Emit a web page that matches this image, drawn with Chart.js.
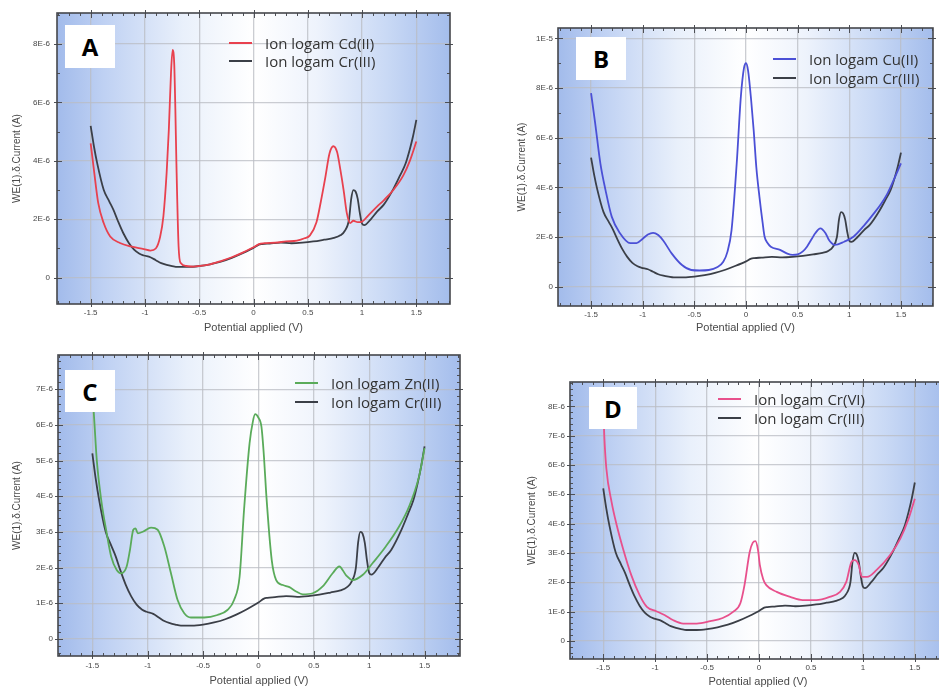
<!DOCTYPE html>
<html><head><meta charset="utf-8">
<script src="https://cdn.jsdelivr.net/npm/chart.js@4.4.1/dist/chart.umd.min.js"></script>
<style>
html,body{margin:0;padding:0;background:#fff;overflow:hidden;width:939px;height:687px;}
canvas{position:absolute;}
.box{position:absolute;background:#fff;font:bold 24px "Open Sans",sans-serif;color:#000;display:flex;align-items:center;justify-content:center;}
.leg{position:absolute;font:15px "Open Sans",sans-serif;color:#333;white-space:nowrap;}
.leg div{display:flex;align-items:center;}
.leg span.ln{display:inline-block;width:23px;height:2px;margin-right:13px;}
</style></head><body>
<canvas id="cA" width="470" height="340" style="left:0;top:0"></canvas>
<canvas id="cB" width="469" height="340" style="left:470px;top:0"></canvas>
<canvas id="cC" width="470" height="352" style="left:0;top:340px"></canvas>
<canvas id="cD" width="480" height="352" style="left:470px;top:340px"></canvas>

<div class="box" style="left:65px;top:25px;width:50px;height:43px">A</div>
<div class="box" style="left:576px;top:37px;width:50px;height:43px">B</div>
<div class="box" style="left:65px;top:370px;width:50px;height:42px">C</div>
<div class="box" style="left:589px;top:387px;width:48px;height:42px">D</div>

<div class="leg" style="left:229px;top:34px">
  <div style="height:18px"><span class="ln" style="background:#e8414e"></span>Ion logam Cd(II)</div>
  <div style="height:18px"><span class="ln" style="background:#3b3f47"></span>Ion logam Cr(III)</div>
</div>
<div class="leg" style="left:773px;top:49px">
  <div style="height:19px"><span class="ln" style="background:#4b50d6"></span>Ion logam Cu(II)</div>
  <div style="height:19px"><span class="ln" style="background:#3b3f47"></span>Ion logam Cr(III)</div>
</div>
<div class="leg" style="left:295px;top:373px">
  <div style="height:19px"><span class="ln" style="background:#5aab5a"></span>Ion logam Zn(II)</div>
  <div style="height:19px"><span class="ln" style="background:#3b3f47"></span>Ion logam Cr(III)</div>
</div>
<div class="leg" style="left:718px;top:389px">
  <div style="height:19px"><span class="ln" style="background:#e8508c"></span>Ion logam Cr(VI)</div>
  <div style="height:19px"><span class="ln" style="background:#3b3f47"></span>Ion logam Cr(III)</div>
</div>

<script>
// ---- Data (potential in V, current in units of 1E-6 A) ----
const crX = [-1.50,-1.47,-1.44,-1.38,-1.33,-1.29,-1.25,-1.20,-1.15,-1.10,-1.05,-1.01,-0.95,-0.90,-0.85,-0.80,-0.75,-0.70,-0.60,-0.50,-0.40,-0.30,-0.20,-0.10,0.00,0.05,0.08,0.15,0.25,0.35,0.45,0.55,0.65,0.74,0.80,0.84,0.88,0.90,0.92,0.94,0.96,0.98,1.00,1.02,1.08,1.14,1.20,1.29,1.35,1.40,1.44,1.47,1.50];
const crY = [5.20,4.50,3.92,3.01,2.62,2.32,1.95,1.53,1.20,0.96,0.82,0.76,0.70,0.60,0.50,0.44,0.40,0.37,0.37,0.40,0.46,0.55,0.68,0.84,1.02,1.13,1.15,1.17,1.20,1.18,1.20,1.24,1.30,1.36,1.45,1.60,2.00,2.70,3.00,2.95,2.70,2.20,1.85,1.80,2.00,2.27,2.50,3.05,3.50,3.90,4.40,4.85,5.40];

const cdX = [-1.50,-1.47,-1.43,-1.38,-1.32,-1.23,-1.13,-1.01,-0.95,-0.90,-0.86,-0.83,-0.80,-0.78,-0.76,-0.745,-0.73,-0.72,-0.71,-0.69,-0.67,-0.62,-0.55,-0.50,-0.40,-0.30,-0.20,-0.10,0.00,0.05,0.10,0.20,0.30,0.40,0.47,0.52,0.58,0.62,0.66,0.70,0.735,0.77,0.80,0.83,0.86,0.89,0.92,0.96,1.00,1.05,1.14,1.20,1.29,1.38,1.44,1.50];
const cdY = [4.60,3.69,2.55,1.87,1.41,1.19,1.07,0.98,0.93,1.00,1.40,2.10,3.60,5.06,7.00,7.80,7.30,5.80,3.90,1.07,0.50,0.40,0.38,0.40,0.46,0.57,0.70,0.86,1.04,1.15,1.18,1.20,1.24,1.27,1.35,1.45,1.90,2.60,3.40,4.25,4.50,4.30,3.70,3.00,2.20,1.87,1.95,1.90,1.92,2.10,2.44,2.65,3.01,3.50,4.00,4.66];

const cuX = [-1.50,-1.46,-1.41,-1.36,-1.30,-1.22,-1.12,-1.06,-1.00,-0.95,-0.90,-0.85,-0.80,-0.72,-0.62,-0.53,-0.45,-0.36,-0.28,-0.22,-0.18,-0.14,-0.09,-0.05,-0.02,0.00,0.02,0.05,0.074,0.10,0.13,0.16,0.18,0.21,0.24,0.33,0.40,0.45,0.50,0.55,0.59,0.64,0.67,0.72,0.77,0.80,0.83,0.86,0.95,1.04,1.14,1.24,1.31,1.37,1.43,1.50];
const cuY = [7.80,6.58,4.97,3.89,2.82,2.15,1.75,1.75,1.93,2.10,2.17,2.08,1.85,1.34,0.87,0.67,0.65,0.67,0.78,1.00,1.40,2.28,4.97,7.65,8.80,9.00,8.70,7.50,6.31,4.80,3.62,2.60,2.01,1.75,1.61,1.48,1.33,1.28,1.30,1.42,1.61,1.95,2.15,2.35,2.15,1.90,1.75,1.68,1.81,2.01,2.45,2.96,3.35,3.76,4.30,4.97];

const znX = [-1.50,-1.48,-1.46,-1.42,-1.37,-1.33,-1.28,-1.24,-1.19,-1.16,-1.13,-1.11,-1.09,-1.04,-0.97,-0.91,-0.85,-0.79,-0.73,-0.67,-0.61,-0.49,-0.37,-0.28,-0.22,-0.17,-0.13,-0.08,-0.05,-0.03,0.00,0.027,0.05,0.07,0.12,0.16,0.22,0.28,0.34,0.40,0.49,0.58,0.67,0.73,0.79,0.85,0.94,1.03,1.15,1.27,1.36,1.45,1.50];
const znY = [7.00,6.00,5.02,3.90,2.96,2.31,1.93,1.84,2.03,2.50,3.06,3.10,2.96,3.01,3.12,3.06,2.59,1.84,1.09,0.72,0.60,0.60,0.67,0.81,1.09,1.75,3.62,5.49,6.10,6.30,6.20,5.95,5.10,4.08,2.21,1.65,1.51,1.45,1.33,1.25,1.28,1.47,1.84,2.03,1.79,1.65,1.79,2.12,2.59,3.15,3.71,4.55,5.35];

const cr6X = [-1.50,-1.49,-1.47,-1.42,-1.37,-1.31,-1.23,-1.15,-1.08,-0.99,-0.91,-0.83,-0.73,-0.60,-0.47,-0.35,-0.25,-0.18,-0.14,-0.09,-0.06,-0.035,-0.01,0.008,0.04,0.07,0.17,0.30,0.42,0.55,0.68,0.78,0.84,0.89,0.92,0.96,0.99,1.04,1.13,1.26,1.36,1.44,1.50];
const cr6Y = [8.00,7.00,5.88,4.74,3.94,3.15,2.24,1.56,1.16,1.01,0.88,0.71,0.59,0.59,0.67,0.78,0.99,1.28,1.90,3.03,3.35,3.40,3.10,2.58,2.10,1.90,1.67,1.50,1.39,1.39,1.50,1.67,2.01,2.69,2.75,2.58,2.18,2.18,2.41,2.92,3.49,4.17,4.85];

const xTicks = [-1.5,-1,-0.5,0,0.5,1,1.5];
const yTicksA = [0,2,4,6,8];
const yTicksB = [0,2,4,6,8,10];
const yTicksC = [0,1,2,3,4,5,6,7];
const yTicksD = [0,1,2,3,4,5,6,7,8];

const seriesNames = {cd:'Ion logam Cd(II)', cu:'Ion logam Cu(II)', zn:'Ion logam Zn(II)', cr6:'Ion logam Cr(VI)', cr3:'Ion logam Cr(III)'};

// ---- helpers ----
const toPts = (xs, ys) => xs.map((x,i)=>({x:x, y:ys[i]*1e-6}));
function sci(v){
  if (Math.abs(v) < 1e-12) return '0';
  const e = Math.floor(Math.log10(v) + 1e-9);
  const m = Math.round(v / Math.pow(10, e));
  return m + 'E' + e;
}

const framePlugin = {
  id: 'frame',
  beforeDraw(chart){
    const {ctx, chartArea:a} = chart;
    const g = ctx.createLinearGradient(a.left, 0, a.right, 0);
    g.addColorStop(0, '#a2bbeb');
    g.addColorStop(0.12, '#bfd1f3');
    g.addColorStop(0.32, '#e9f0fb');
    g.addColorStop(0.5, '#ffffff');
    g.addColorStop(0.66, '#eef3fc');
    g.addColorStop(0.84, '#c9d9f5');
    g.addColorStop(1, '#a4bdec');
    ctx.save();
    ctx.fillStyle = g;
    ctx.fillRect(a.left, a.top, a.width, a.height);
    ctx.restore();
  },
  afterDatasetsDraw(chart, args, opts){
    const {ctx, chartArea:a, scales} = chart;
    const xs = scales.x, ys = scales.y;
    ctx.save();
    ctx.strokeStyle = '#4d4f55';
    ctx.lineWidth = 1;
    // minor x ticks
    for (let k = -18; k <= 18; k++){
      const v = k/10;
      const px = Math.round(xs.getPixelForValue(v)) + 0.5;
      if (px < a.left || px > a.right) continue;
      const major = (k % 5 === 0);
      const inL = major ? 5 : 3, outL = major ? 3 : 0;
      ctx.beginPath();
      ctx.moveTo(px, a.bottom + outL); ctx.lineTo(px, a.bottom - inL);
      ctx.moveTo(px, a.top - outL); ctx.lineTo(px, a.top + inL);
      ctx.stroke();
    }
    // y ticks
    const step = opts.yMinor, majorStep = opts.yMajor;
    const n0 = Math.ceil(ys.min/step), n1 = Math.floor(ys.max/step);
    for (let k = n0; k <= n1; k++){
      const v = k*step;
      const py = Math.round(ys.getPixelForValue(v)) + 0.5;
      const major = Math.abs(v/majorStep - Math.round(v/majorStep)) < 1e-6;
      const inL = major ? 5 : 3, outL = major ? 3 : 0;
      ctx.beginPath();
      ctx.moveTo(a.left - outL, py); ctx.lineTo(a.left + inL, py);
      ctx.moveTo(a.right + outL, py); ctx.lineTo(a.right - inL, py);
      ctx.stroke();
    }
    ctx.lineWidth = 1.6;
    ctx.strokeStyle = '#45474c';
    ctx.strokeRect(a.left, a.top, a.width, a.height);
    ctx.restore();
  }
};

function makeChart(id, datasets, o){
  return new Chart(document.getElementById(id), {
    type: 'line',
    data: { datasets: datasets.map(d => ({
      label: d.label, data: d.data, borderColor: d.color, borderWidth: 1.8,
      pointRadius: 0, cubicInterpolationMode: 'monotone', fill: false
    }))},
    options: {
      responsive: false, animation: false, devicePixelRatio: 1,
      layout: { padding: { left: 0, top: o.top, right: o.right, bottom: 0 } },
      plugins: { legend: { display: false }, tooltip: { enabled: false },
        frame: { yMinor: o.yMinor, yMajor: o.yMajor } },
      scales: {
        x: {
          type: 'linear', min: o.xmin, max: o.xmax,
          afterFit: s => { s.height = o.xh; },
          afterBuildTicks: s => { s.ticks = xTicks.map(v => ({value: v})); },
          ticks: { autoSkip: false, maxRotation: 0, padding: o.xtp, color: '#474747',
            font: { family: 'Liberation Sans', size: 8 }, callback: v => String(v) },
          grid: { color: 'rgba(185,188,195,0.75)', lineWidth: 1.3, drawTicks: false },
          border: { display: false },
          title: { display: true, text: 'Potential applied (V)', color: '#4a4a4a',
            font: { family: 'Liberation Sans', size: 11 }, padding: { top: 0, bottom: o.xtitle } }
        },
        y: {
          type: 'linear', min: o.ymin*1e-6, max: o.ymax*1e-6,
          afterFit: s => { s.width = o.yw; },
          afterBuildTicks: s => { s.ticks = o.yTicks.map(v => ({value: v*1e-6})); },
          ticks: { autoSkip: false, padding: o.ytp, color: '#474747',
            font: { family: 'Liberation Sans', size: 8 }, callback: v => sci(v) },
          grid: { color: 'rgba(185,188,195,0.75)', lineWidth: 1.3, drawTicks: false },
          border: { display: false },
          title: { display: true, text: 'WE(1).δ.Current (A)', color: '#4a4a4a',
            font: { family: 'Liberation Sans', size: 10 }, padding: { top: o.ytitle, bottom: 0 } }
        }
      }
    },
    plugins: [framePlugin]
  });
}

const cr3Color = '#3b3f47';

makeChart('cA', [
  { label: seriesNames.cd, data: toPts(cdX, cdY), color: '#e8414e' },
  { label: seriesNames.cr3, data: toPts(crX, crY), color: cr3Color }
], { xmin:-1.81, xmax:1.81, ymin:-0.9, ymax:9.06, yTicks:yTicksA, yMinor:1e-6, yMajor:2e-6,
     top:13, right:20, yw:57, xh:36, ytp:7, xtp:4, ytitle:11, xtitle:5 });

makeChart('cB', [
  { label: seriesNames.cu, data: toPts(cuX, cuY), color: '#4b50d6' },
  { label: seriesNames.cr3, data: toPts(crX, crY), color: cr3Color }
], { xmin:-1.82, xmax:1.81, ymin:-0.78, ymax:10.42, yTicks:yTicksB, yMinor:1e-6, yMajor:2e-6,
     top:28, right:6, yw:88, xh:34, ytp:5, xtp:4, ytitle:46, xtitle:5 });

makeChart('cC', [
  { label: seriesNames.zn, data: toPts(znX, znY), color: '#5aab5a' },
  { label: seriesNames.cr3, data: toPts(crX, crY), color: cr3Color }
], { xmin:-1.81, xmax:1.82, ymin:-0.48, ymax:7.96, yTicks:yTicksC, yMinor:0.2e-6, yMajor:1e-6,
     top:15, right:10, yw:58, xh:36, ytp:5, xtp:5, ytitle:11, xtitle:4 });

makeChart('cD', [
  { label: seriesNames.cr6, data: toPts(cr6X, cr6Y), color: '#e8508c' },
  { label: seriesNames.cr3, data: toPts(crX, crY), color: cr3Color }
], { xmin:-1.82, xmax:1.80, ymin:-0.62, ymax:8.83, yTicks:yTicksD, yMinor:0.2e-6, yMajor:1e-6,
     top:42, right:4, yw:100, xh:33, ytp:5, xtp:4, ytitle:56, xtitle:3 });
</script>
</body></html>
